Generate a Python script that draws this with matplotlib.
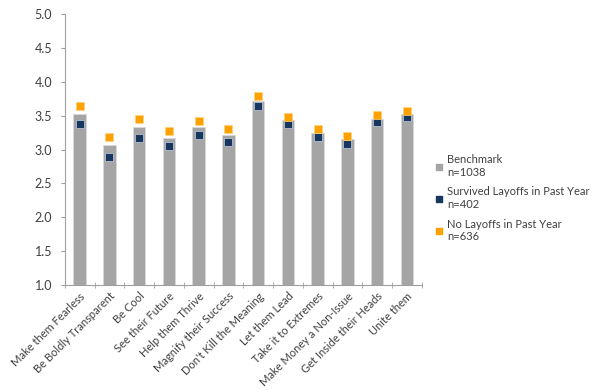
import numpy as np
import matplotlib
matplotlib.use("Agg")
import matplotlib.pyplot as plt
from matplotlib.lines import Line2D

categories = ["Make them Fearless", "Be Boldly Transparent", "Be Cool",
              "See their Future", "Help them Thrive", "Magnify their Success",
              "Don't Kill the Meaning", "Let them Lead", "Take it to Extremes",
              "Make Money a Non-Issue", "Get Inside their Heads", "Unite them"]
benchmark = [3.53, 3.06, 3.34, 3.17, 3.33, 3.21, 3.72, 3.44, 3.24, 3.15, 3.45, 3.52]
survived = [3.37, 2.89, 3.17, 3.05, 3.21, 3.11, 3.64, 3.37, 3.18, 3.08, 3.40, 3.48]
no_layoffs = [3.65, 3.18, 3.45, 3.27, 3.42, 3.30, 3.79, 3.48, 3.30, 3.20, 3.51, 3.57]
labels = ["Benchmark\nn=1038", "Survived Layoffs in Past Year\nn=402",
          "No Layoffs in Past Year\nn=636"]

gray = "#a5a5a5"
navy = "#17375e"
orange = "#ffa200"

plt.rcParams["font.family"] = ["Lato", "DejaVu Sans"]

fig = plt.figure(figsize=(6, 3.9), dpi=100)
ax = fig.add_axes([0.108, 0.269, 0.595, 0.695])

x = np.arange(len(categories))
ax.bar(x, np.array(benchmark) - 1.0, bottom=1.0, width=0.42, color=gray,
       edgecolor="#d9d9d9", linewidth=0.6, zorder=2)
ax.plot(x, survived, ls="none", marker="s", ms=5.8, color=navy,
        mec="#c6d0e0", mew=0.5, zorder=3)
ax.plot(x, no_layoffs, ls="none", marker="s", ms=5.8, color=orange,
        mec="#ffd27f", mew=0.5, zorder=3)

ax.set_xlim(-0.5, len(categories) - 0.5)
ax.set_ylim(1.0, 5.0)
ax.set_yticks(np.arange(1.0, 5.01, 0.5))
ax.set_yticklabels([f"{v:.1f}" for v in np.arange(1.0, 5.01, 0.5)],
                   fontsize=9, color="#404040")
ax.tick_params(axis="y", length=3, color="#a0a0a0", pad=6)

ax.set_xticks(x)
ax.set_xticklabels(categories, rotation=45, ha="right", rotation_mode="anchor",
                   fontsize=8, color="#404040")
ax.tick_params(axis="x", which="major", length=0, pad=4)
ax.set_xticks(np.arange(-0.5, len(categories)), minor=True)
ax.tick_params(axis="x", which="minor", length=4, color="#a0a0a0",
               direction="inout")

for s in ["top", "right"]:
    ax.spines[s].set_visible(False)
for s in ["left", "bottom"]:
    ax.spines[s].set_color("#a0a0a0")
    ax.spines[s].set_linewidth(0.8)

handles = [Line2D([], [], ls="none", marker="s", ms=5, color=c)
           for c in (gray, navy, orange)]
fig.legend(handles, labels, loc="upper left", bbox_to_anchor=(0.71, 0.63),
           frameon=False, fontsize=8, handlelength=0.6, handletextpad=0.4,
           labelspacing=0.75, labelcolor="#404040")

fig.savefig("out.png", dpi=100)
